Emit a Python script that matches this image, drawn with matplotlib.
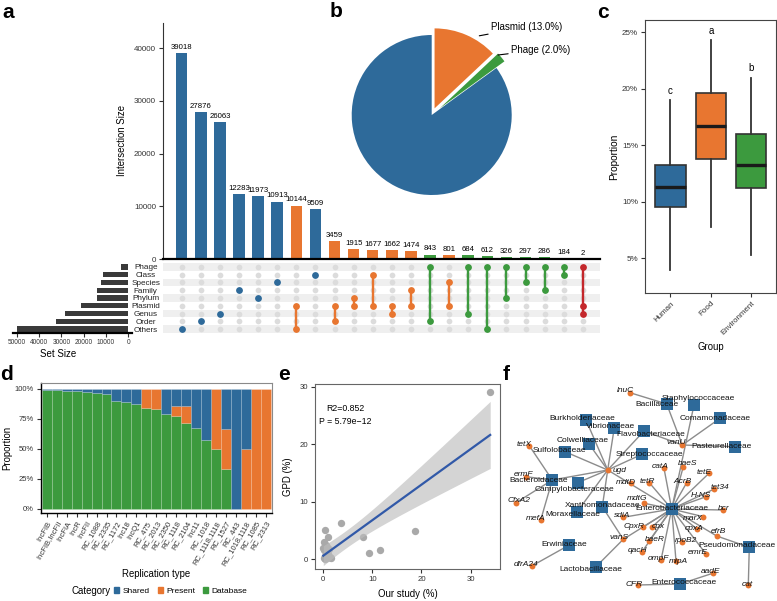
import numpy as np
import matplotlib
matplotlib.use("Agg")
import matplotlib.pyplot as plt
from matplotlib.patches import Patch

plt.rcParams['font.family'] = ['Liberation Sans', 'DejaVu Sans']

W, H = 777, 601
BLUE = "#2E6A9A"; ORANGE = "#E87630"; GREEN = "#3C9A3E"; RED = "#C4282C"

# ---------------- data: panel a (UpSet) ----------------
set_names = ["Phage", "Class", "Species", "Family", "Phylum", "Plasmid", "Genus", "Order", "Others"]
inter_sizes = [39018, 27876, 26063, 12283, 11973, 10913, 10144, 9509, 3459, 1915, 1677,
               1662, 1474, 843, 801, 684, 612, 326, 297, 286, 184, 2]
inter_sets = [["Others"], ["Order"], ["Genus"], ["Family"], ["Phylum"], ["Species"],
              ["Plasmid", "Others"], ["Class"], ["Plasmid", "Order"], ["Phylum", "Plasmid"],
              ["Class", "Plasmid"], ["Plasmid", "Genus"], ["Family", "Plasmid"],
              ["Phage", "Order"], ["Species", "Plasmid"], ["Phage", "Genus"], ["Phage", "Others"],
              ["Phage", "Phylum"], ["Phage", "Species"], ["Phage", "Family"], ["Phage", "Class"],
              ["Phage", "Plasmid", "Genus"]]
inter_group = (["single"] * 6 + ["plasmid", "single"] + ["plasmid"] * 5 + ["phage", "plasmid"]
               + ["phage"] * 6 + ["both"])

# ---------------- data: panel b (pie) ----------------
pie_labels = ["Plasmid", "Phage", "Others"]
pie_pct = [13.0, 2.0, 85.0]

# ---------------- data: panel c (boxplot) ----------------
groups = ["Human", "Food", "Environment"]
box_whislo = [4.0, 7.8, 5.3]
box_q1 = [9.5, 13.8, 11.2]
box_med = [11.3, 16.7, 13.25]
box_q3 = [13.3, 19.6, 16.0]
box_whishi = [19.0, 24.3, 21.0]
sig_letters = ["c", "a", "b"]

# ---------------- data: panel d (stacked bars) ----------------
rep_types = ["IncFIB", "IncFIB,IncFII", "IncFIA", "IncR", "IncFII", "RC_1088", "RC_2335", "RC_1172",
             "Inc18", "IncQ1", "RC_475", "RC_2013", "RC_2350", "RC_1118", "RC_2104", "Inc11",
             "RC_1018", "RC_1118,1118", "RC_1527", "RC_443", "RC_1018,1118", "RC_1085", "RC_2313"]
database_pct = [99.2, 98.9, 98.6, 98.3, 97.8, 96.9, 96.2, 90.3, 89.0, 87.3, 84.5, 83.3, 79.2,
                77.8, 71.4, 67.0, 57.5, 50.0, 33.3, 0, 0, 0, 0]
present_pct = [0, 0, 0, 0, 0, 0, 0, 0, 0, 0, 15.5, 16.7, 0, 8.2, 14.4, 0, 0, 50.0, 33.3, 0,
               50.0, 100, 100]

# ---------------- data: panel e (scatter) ----------------
our_study = [0.1, 0.2, 0.3, 0.35, 0.5, 0.6, 0.8, 1.0, 1.2, 1.5, 0.2, 0.4, 0.0, 1.0, 3.7, 8.0,
             9.3, 11.5, 18.7, 34.0, 0.7, 1.3]
gpd = [0.2, 1.5, 0.5, 5.1, 1.0, 2.5, 0.1, 3.9, 1.8, 0.2, 3.0, 0.0, 1.9, 0.8, 6.3, 3.9,
       1.0, 1.6, 4.8, 29.1, 2.1, 0.4]

# ---------------- data: panel f (network) ----------------
families = ["Staphylococcaceae", "Bacillaceae", "Comamonadaceae", "Burkholderiaceae", "Vibrionaceae",
            "Flavobacteriaceae", "Colwelliaceae", "Sulfolobaceae", "Pasteurellaceae",
            "Streptococcaceae", "Bacteroidaceae", "Campylobacteraceae", "Xanthomonadaceae",
            "Moraxellaceae", "Enterobacteriaceae", "Erwiniaceae", "Lactobacillaceae",
            "Pseudomonadaceae", "Enterococcaceae"]
genes = ["lnuC", "tetX", "ermF", "CfxA2", "mefA", "dfrA24", "ugd", "vanU", "catA", "baeS", "tetE",
         "mdtD", "tetR", "AcrB", "tet34", "H-NS", "mdtG", "sdiA", "bcr", "marX", "CpxR", "cpx",
         "cpxA", "vanS", "baeR", "rpoB2", "efrB", "qacH", "emrE", "ompF", "mipA", "aadE", "CFR", "cat"]
edges = [("lnuC", "Bacillaceae"), ("Bacillaceae", "vanU"), ("Staphylococcaceae", "Enterobacteriaceae"),
         ("Comamonadaceae", "vanU"), ("Flavobacteriaceae", "vanU"), ("vanU", "Pasteurellaceae"),
         ("ugd", "Burkholderiaceae"), ("ugd", "Vibrionaceae"), ("ugd", "Flavobacteriaceae"),
         ("ugd", "Colwelliaceae"), ("ugd", "Sulfolobaceae"), ("ugd", "Streptococcaceae"),
         ("ugd", "Bacteroidaceae"), ("ugd", "Campylobacteraceae"), ("ugd", "Xanthomonadaceae"),
         ("ugd", "Moraxellaceae"), ("ugd", "Enterobacteriaceae"), ("tetX", "Bacteroidaceae"),
         ("ermF", "Bacteroidaceae"), ("CfxA2", "Bacteroidaceae"), ("mefA", "Bacteroidaceae"),
         ("dfrA24", "Erwiniaceae"), ("vanS", "Lactobacillaceae"), ("vanS", "Xanthomonadaceae"),
         ("vanS", "Enterobacteriaceae"), ("cat", "Pseudomonadaceae"), ("efrB", "Pseudomonadaceae"),
         ("CFR", "Enterococcaceae"), ("aadE", "Enterococcaceae")]
entero_genes = ["catA", "baeS", "tetE", "tetR", "AcrB", "tet34", "H-NS", "mdtG", "sdiA", "bcr",
                "marX", "CpxR", "cpx", "cpxA", "baeR", "rpoB2", "efrB", "qacH", "emrE", "ompF", "mipA"]
edges += [(g, "Enterobacteriaceae") for g in entero_genes]

# layout of the network (figure-pixel coordinates)
layout = {
    "Staphylococcaceae": (694, 405), "Bacillaceae": (666.7, 404), "Comamonadaceae": (720, 418.3),
    "Burkholderiaceae": (586, 420), "Vibrionaceae": (614.3, 427.7), "Flavobacteriaceae": (644, 431),
    "Colwelliaceae": (589, 444), "Sulfolobaceae": (565, 451.7), "Pasteurellaceae": (735, 446.7),
    "Streptococcaceae": (642, 454.3), "Bacteroidaceae": (552.3, 480),
    "Campylobacteraceae": (577.7, 482.7), "Xanthomonadaceae": (602.3, 506.7),
    "Moraxellaceae": (577.3, 511.7), "Enterobacteriaceae": (671.7, 509), "Erwiniaceae": (569.3, 545),
    "Lactobacillaceae": (596, 566.7), "Pseudomonadaceae": (749.3, 547.3),
    "Enterococcaceae": (680, 584),
    "lnuC": (630, 392.7), "tetX": (529.3, 445.7), "ermF": (526, 476.7), "CfxA2": (516, 502.7),
    "mefA": (540.7, 520), "dfrA24": (532.3, 565.7), "ugd": (607.7, 470), "vanU": (682.3, 445),
    "catA": (664, 468.3), "baeS": (683.3, 466.7), "tetE": (709, 473.3), "mdtD": (631, 482.7),
    "tetR": (649.3, 482.7), "AcrB": (686.7, 482.7), "tet34": (714.3, 489), "H-NS": (706, 496.7),
    "mdtG": (644.3, 503.3), "sdiA": (623.3, 517.3), "bcr": (723.3, 510), "marX": (703.3, 516.7),
    "CpxR": (642.7, 527.3), "cpx": (652, 527), "cpxA": (697, 529), "vanS": (623.3, 539.3),
    "baeR": (649.3, 540.7), "rpoB2": (681.7, 541.7), "efrB": (716.7, 536), "qacH": (641.7, 552.3),
    "emrE": (706, 554), "ompF": (661, 560), "mipA": (676, 561), "aadE": (712.7, 573.3),
    "CFR": (637.7, 585), "cat": (748.3, 585),
}
label_offset = {
    "Staphylococcaceae": (4, -7), "Bacillaceae": (-10, 1), "Comamonadaceae": (-5, 0),
    "Burkholderiaceae": (-3.5, -2), "Vibrionaceae": (-4, -1), "Flavobacteriaceae": (7, 3),
    "Colwelliaceae": (-6.5, -3), "Sulfolobaceae": (-6, -1), "Pasteurellaceae": (-13, 0),
    "Streptococcaceae": (7, 0), "Bacteroidaceae": (-14, 1), "Campylobacteraceae": (-3, 7),
    "Xanthomonadaceae": (0, -1.5), "Moraxellaceae": (-4, 2.5), "Erwiniaceae": (-5, 0),
    "Lactobacillaceae": (-5, 2.5), "Pseudomonadaceae": (-12, -2), "Enterococcaceae": (4, -2),
    "lnuC": (-5, -2), "tetX": (-5, -1.5), "ermF": (-3, -2.5), "CfxA2": (3, -2), "mefA": (-5, -1),
    "dfrA24": (-6, -1.5), "ugd": (12, 0), "vanU": (-6, -2), "catA": (-4, -2), "baeS": (4, -3),
    "tetE": (-5, -1), "mdtD": (-5, 0), "tetR": (-2, -1), "AcrB": (-4, -1.5), "tet34": (6, -1.5),
    "H-NS": (-5, -1.5), "mdtG": (-7, -4.5), "sdiA": (-1.5, -1.5), "bcr": (0, -1), "marX": (-10, 1.5),
    "CpxR": (-9, -1), "cpx": (6, -1), "cpxA": (-3, -0.5), "vanS": (-4, -2), "baeR": (6, -1),
    "rpoB2": (4, -1.5), "efrB": (1.5, -4.5), "qacH": (-4.5, -2), "emrE": (-8, -1), "ompF": (-3, -1.5),
    "mipA": (2, 0.5), "aadE": (-2.5, -1.5), "CFR": (-3.5, 0), "cat": (-1, 0),
}

# ===================================================================
fig = plt.figure(figsize=(W / 100, H / 100), dpi=100)


def px_axes(l, t, r, b):
    return fig.add_axes([l / W, 1 - b / H, (r - l) / W, (b - t) / H])


group_colors = {"single": BLUE, "plasmid": ORANGE, "phage": GREEN, "both": RED}
TICKC = "#333333"

# ---------------- panel a: intersection bars ----------------
axb = px_axes(163, 23, 600, 259)
axb.patch.set_alpha(0)
xi = np.arange(len(inter_sizes))
cols = [group_colors[g] for g in inter_group]
axb.bar(xi, inter_sizes, width=0.6, color=cols)
for x, v in zip(xi, inter_sizes):
    axb.annotate(str(v), (x, v), xytext=(0, 1.5), textcoords="offset points",
                 ha="center", va="bottom", fontsize=5.6)
axb.set_xlim(-0.98, 21.9)
axb.set_ylim(0, 44800)
axb.set_xticks([])
axb.set_yticks([0, 10000, 20000, 30000, 40000])
axb.tick_params(axis="y", labelsize=5.8, length=3, width=0.8, color=TICKC, labelcolor=TICKC, pad=2)
for s in ["top", "right"]:
    axb.spines[s].set_visible(False)
axb.spines["left"].set_linewidth(0.8)
axb.spines["left"].set_color(TICKC)
axb.spines["bottom"].set_linewidth(1.6)
axb.spines["bottom"].set_color("black")
axb.set_ylabel("Intersection Size", fontsize=6.9)
axb.yaxis.set_label_coords(-0.082, 0.5)

# ---------------- panel a: matrix ----------------
axm = px_axes(163, 263.1, 600, 332.9)
axm.set_xlim(-0.98, 21.9)
axm.set_ylim(-0.5, 8.5)
nrow = len(set_names)
row_y = {name: nrow - 1 - j for j, name in enumerate(set_names)}
for j, name in enumerate(set_names):
    if j % 2 == 0:
        axm.axhspan(row_y[name] - 0.5, row_y[name] + 0.5, color="#EFEFEF", lw=0, zorder=0)
gx, gy = np.meshgrid(xi, np.arange(nrow))
axm.scatter(gx.ravel(), gy.ravel(), s=17, color="#DCDCDC", lw=0, zorder=1)
for x, members, col in zip(xi, inter_sets, cols):
    ys = [row_y[m] for m in members]
    if len(ys) > 1:
        axm.plot([x, x], [min(ys), max(ys)], color=col, lw=1.7, zorder=2, solid_capstyle="round")
    axm.scatter([x] * len(ys), ys, s=24, color=col, lw=0, zorder=3)
axm.set_xticks([])
axm.set_yticks([row_y[n] for n in set_names])
axm.set_yticklabels(set_names, fontsize=5.9, ha="center")
axm.tick_params(axis="y", length=0, pad=12.5, labelcolor="#222")
for s in axm.spines.values():
    s.set_visible(False)

# ---------------- panel a: set sizes ----------------
set_sizes = [sum(v for v, m in zip(inter_sizes, inter_sets) if name in m) for name in set_names]
axs = px_axes(13, 263.1, 132, 332.9)
axs.barh([row_y[n] for n in set_names], set_sizes, height=0.68, color="#3A3A3A")
axs.set_xlim(51650, -1660)
axs.set_ylim(-0.5, 8.5)
axs.set_xticks([50000, 40000, 30000, 20000, 10000, 0])
axs.set_xticklabels(["50000", "40000", "30000", "20000", "10000", "0"])
axs.tick_params(axis="x", labelsize=4.7, length=3, width=0.8, pad=1.5, color=TICKC, labelcolor=TICKC)
axs.set_yticks([])
for s in ["top", "right", "left"]:
    axs.spines[s].set_visible(False)
axs.spines["bottom"].set_linewidth(1.6)
axs.set_xlabel("Set Size", fontsize=7)
axs.xaxis.set_label_coords(0.378, -0.23)

# ---------------- panel b: pie ----------------
axp = px_axes(331.7, 15, 531.7, 215)
axp.set_aspect("equal")
axp.axis("off")
axp.pie(pie_pct, colors=[ORANGE, GREEN, BLUE], startangle=90, counterclock=False,
        explode=[0.09, 0.13, 0], radius=1, wedgeprops=dict(linewidth=0))
axp.set_xlim(-1.25, 1.25)
axp.set_ylim(-1.25, 1.25)
for lab, pct, xy, xyt in [(pie_labels[0], pie_pct[0], (0.595, 0.99), (0.74, 1.10)),
                          (pie_labels[1], pie_pct[1], (0.83, 0.75), (0.99, 0.815))]:
    axp.annotate(f"{lab} ({pct:.1f}%)", xy=xy, xytext=xyt, fontsize=7, ha="left", va="center",
                 arrowprops=dict(arrowstyle="-", color="black", lw=0.8, shrinkA=0, shrinkB=0))

# ---------------- panel c: boxplot ----------------
axc = px_axes(645, 20, 776, 293)
stats = [dict(med=m, q1=a, q3=b, whislo=lo, whishi=hi, fliers=[])
         for m, a, b, lo, hi in zip(box_med, box_q1, box_q3, box_whislo, box_whishi)]
bp = axc.bxp(stats, positions=[1, 2, 3], widths=0.75, patch_artist=True, showfliers=False,
             showcaps=False,
             boxprops=dict(edgecolor="#333333", linewidth=1.2),
             medianprops=dict(color="#1a1a1a", linewidth=2.4),
             whiskerprops=dict(color="#333333", linewidth=1.3))
for patch, col in zip(bp["boxes"], [BLUE, ORANGE, GREEN]):
    patch.set_facecolor(col)
for pos, hi, lt in zip([1, 2, 3], box_whishi, sig_letters):
    axc.text(pos, hi + 0.85, lt, ha="center", va="center", fontsize=7)
axc.set_xlim(0.37, 3.61)
axc.set_ylim(1.93, 26.09)
axc.set_yticks([5, 10, 15, 20, 25])
axc.set_yticklabels(["5%", "10%", "15%", "20%", "25%"])
axc.set_xticks([1, 2, 3])
axc.set_xticklabels(groups, rotation=45, ha="right", rotation_mode="anchor")
axc.tick_params(labelsize=5.8, length=3, width=0.8, color=TICKC, labelcolor=TICKC, pad=2)
for s in axc.spines.values():
    s.set_color("#444444")
    s.set_linewidth(0.8)
axc.set_ylabel("Proportion", fontsize=7.3)
axc.yaxis.set_label_coords(-0.2, 0.5)
axc.set_xlabel("Group", fontsize=6.9)
axc.xaxis.set_label_coords(0.504, -0.18)

# ---------------- panel d: stacked proportions ----------------
axd = px_axes(41, 383, 272, 513)
xd = np.arange(len(rep_types))
db = np.array(database_pct)
pr = np.array(present_pct)
sh = 100 - db - pr
kw = dict(width=1.0, edgecolor=(1, 1, 1, 0.18), linewidth=0.5)
axd.bar(xd, db, color=GREEN, **kw)
axd.bar(xd, pr, bottom=db, color=ORANGE, **kw)
axd.bar(xd, sh, bottom=db + pr, color=BLUE, **kw)
axd.set_xlim(-0.58, 22.62)
axd.set_ylim(-3.6, 105)
axd.set_yticks([0, 25, 50, 75, 100])
axd.set_yticklabels(["0%", "25%", "50%", "75%", "100%"])
axd.set_xticks(xd)
axd.set_xticklabels(rep_types, rotation=60, ha="right", rotation_mode="anchor")
axd.tick_params(labelsize=5.5, length=3, width=0.8, color=TICKC, labelcolor=TICKC, pad=2)
axd.spines["left"].set_color("black")
axd.spines["bottom"].set_color("black")
axd.spines["left"].set_linewidth(1.0)
axd.spines["bottom"].set_linewidth(1.0)
for s in ["top", "right"]:
    axd.spines[s].set_color("#8a8a8a")
    axd.spines[s].set_linewidth(0.8)
axd.set_ylabel("Proportion", fontsize=6.9)
axd.yaxis.set_label_coords(-0.125, 0.5)
axd.set_xlabel("Replication type", fontsize=6.9)
axd.xaxis.set_label_coords(0.498, -0.43)
fig.text(72 / W, 1 - 591 / H, "Category", fontsize=6.9, ha="left", va="center")
handles = [Patch(color=BLUE), Patch(color=ORANGE), Patch(color=GREEN)]
fig.legend(handles, ["Shared", "Present", "Database"], loc="center left",
           bbox_to_anchor=(114 / W, 1 - 591 / H), ncol=3, frameon=False, fontsize=6,
           handlelength=0.6, handleheight=0.8, handletextpad=0.4, columnspacing=1.0,
           borderaxespad=0, borderpad=0)

# ---------------- panel e: regression ----------------
axe = px_axes(315, 384, 500, 569)
xs = np.array(our_study)
ys = np.array(gpd)
axe.scatter(xs, ys, s=28, color="#A9A9A9", lw=0, zorder=1)
slope, intercept = np.polyfit(xs, ys, 1)
n = len(xs)
resid = ys - (intercept + slope * xs)
s_err = np.sqrt(np.sum(resid ** 2) / (n - 2))
sxx = np.sum((xs - xs.mean()) ** 2)
xl = np.linspace(xs.min(), xs.max(), 200)
yl = intercept + slope * xl
half = 2.086 * s_err * np.sqrt(1 / n + (xl - xs.mean()) ** 2 / sxx)
axe.fill_between(xl, yl - half, yl + half, color="#BDBDBD", alpha=0.65, lw=0, zorder=2)
axe.plot(xl, yl, color="#3159A8", lw=1.6, zorder=3)
axe.set_xlim(-1.69, 36.0)
axe.set_ylim(-1.74, 30.47)
axe.set_xticks([0, 10, 20, 30])
axe.set_yticks([0, 10, 20, 30])
axe.tick_params(labelsize=5.6, length=3, width=0.8, color=TICKC, labelcolor=TICKC, pad=2)
for s in axe.spines.values():
    s.set_color("#666666")
    s.set_linewidth(0.8)
axe.text(0.162, 0.87, "R2=0.852", transform=axe.transAxes, ha="center", va="center", fontsize=6.3)
axe.text(0.162, 0.796, "P = 5.79e\u221212", transform=axe.transAxes, ha="center", va="center",
         fontsize=6.3)
axe.set_ylabel("GPD (%)", fontsize=6.9)
axe.yaxis.set_label_coords(-0.119, 0.5)
axe.set_xlabel("Our study (%)", fontsize=6.9)
axe.xaxis.set_label_coords(0.5, -0.11)

# ---------------- panel f: network ----------------
axf = px_axes(500, 370, 777, 601)
axf.set_xlim(500, 777)
axf.set_ylim(601, 370)
axf.axis("off")
for a, b in edges:
    (x1, y1), (x2, y2) = layout[a], layout[b]
    axf.plot([x1, x2], [y1, y2], color="#8C8C8C", lw=1.0, zorder=1)
fx = [layout[f][0] for f in families]
fy = [layout[f][1] for f in families]
axf.scatter(fx, fy, marker="s", s=75, color=BLUE, lw=0, zorder=2)
gxs = [layout[g][0] for g in genes]
gys = [layout[g][1] for g in genes]
axf.scatter(gxs, gys, marker="o", s=18, color=ORANGE, lw=0, zorder=3)
for name in families + genes:
    x, y = layout[name]
    dx, dy = label_offset.get(name, (0, 0))
    axf.text(x + dx, y + dy, name, fontsize=6.0, ha="center", va="center", zorder=4,
             style="italic" if name in genes else "normal", color="#111111")

# ---------------- panel letters ----------------
for lab, x, y in [("a", 2, 18), ("b", 330, 17), ("c", 597, 18), ("d", 0, 380), ("e", 278, 380),
                  ("f", 503, 380)]:
    fig.text(x / W, 1 - y / H, lab, fontsize=15, fontweight="bold", ha="left", va="baseline")

fig.savefig("out.png", dpi=100)
